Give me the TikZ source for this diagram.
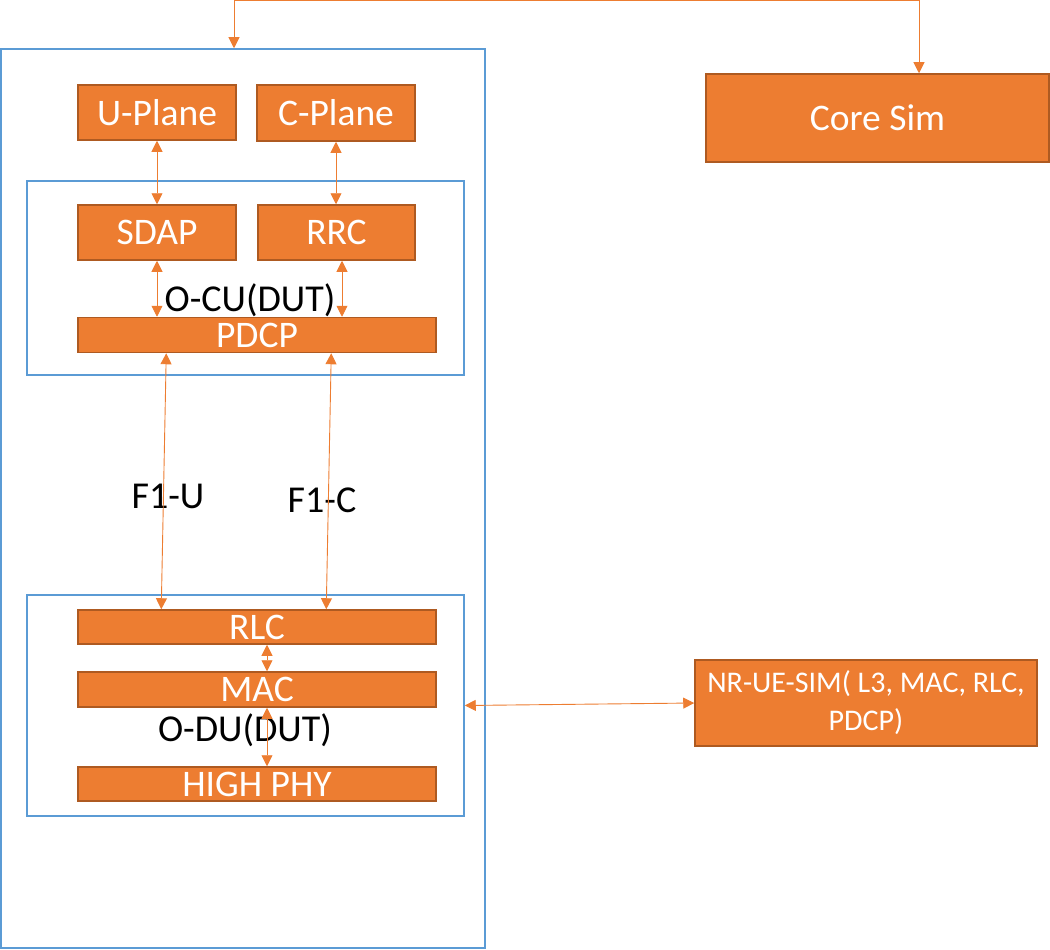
\documentclass[tikz,border=0pt]{standalone}
\usepackage{fontspec}
\setmainfont{Carlito}
\usetikzlibrary{arrows.meta}
\definecolor{boxfill}{HTML}{ED7D31}
\definecolor{boxline}{HTML}{AE5A21}
\definecolor{frameblue}{HTML}{5B9BD5}
\begin{document}
\begin{tikzpicture}[x=1pt,y=-1pt,
  blk/.style={draw=boxline,line width=1.5pt,fill=boxfill,text=white,inner sep=0pt,
    font=\fontsize{37.5}{42}\selectfont},
  frame/.style={draw=frameblue,line width=1.5pt,inner sep=0pt},
  lbl/.style={text=black,inner sep=0pt,font=\fontsize{38}{42}\selectfont},
  link/.style={draw=boxfill,line width=0.9pt,{Triangle[length=11pt,width=11pt]}-{Triangle[length=11pt,width=11pt]}}]
  \useasboundingbox (0,0) rectangle (1050,950);
  \node[frame,minimum width=484pt,minimum height=899pt] (outer) at (243,498.5) {};
  \node[frame,minimum width=437pt,minimum height=194pt] (cu) at (245.5,278) {};
  \node[frame,minimum width=437pt,minimum height=221pt] (du) at (245.5,705.5) {};
  \node[blk,minimum width=158pt,minimum height=55pt] (uplane) at (157,112.5) {U-Plane};
  \node[blk,minimum width=158pt,minimum height=56pt] (cplane) at (336,113) {C-Plane};
  \node[blk,minimum width=158pt,minimum height=55pt] (sdap) at (157,232.5) {SDAP};
  \node[blk,minimum width=157pt,minimum height=55pt] (rrc) at (336.5,232.5) {RRC};
  \node[blk,minimum width=358pt,minimum height=35pt] (pdcp) at (257,335) {PDCP};
  \node[blk,minimum width=358pt,minimum height=34pt] (rlc) at (257,627) {RLC};
  \node[blk,minimum width=358pt,minimum height=35pt] (mac) at (257,689.5) {MAC};
  \node[blk,minimum width=358pt,minimum height=34pt] (phy) at (257,784) {HIGH PHY};
  \node[blk,minimum width=343pt,minimum height=88pt] (core) at (877.5,118) {Core Sim};
  \node[blk,minimum width=342pt,minimum height=86pt,align=center,
    font=\fontsize{30}{38}\selectfont] (ue) at (866,703) {NR-UE-SIM( L3, MAC, RLC,\\PDCP)};
  \node[lbl] (culbl) at (250,300) {O-CU(DUT)};
  \node[lbl] (dulbl) at (245,730) {O-DU(DUT)};
  \node[lbl] (f1u) at (168,496) {F1-U};
  \node[lbl] (f1c) at (322,500) {F1-C};
  % links
  \draw[link] ([xshift=-9pt]outer.north) -- ++(0,-48) -| ([xshift=41.5pt]core.north);
  \draw[link] (uplane.south) -- (sdap.north);
  \draw[link] (cplane.south) -- (cplane.south |- rrc.north);
  \draw[link] (sdap.south) -- (sdap.south |- pdcp.north);
  \draw[link] ([xshift=5.5pt]rrc.south) -- ([xshift=5.5pt]rrc.south |- pdcp.north);
  \draw[link] ([xshift=89pt]pdcp.south west) -- ([xshift=84pt]rlc.north west);
  \draw[link] ([xshift=254pt]pdcp.south west) -- ([xshift=249pt]rlc.north west);
  \draw[link] ([xshift=10pt]rlc.south) -- ([xshift=10pt]mac.north);
  \draw[link] ([xshift=10pt]mac.south) -- ([xshift=10pt]phy.north);
  \draw[link] (du.east) -- (ue.west);
\end{tikzpicture}
\end{document}
